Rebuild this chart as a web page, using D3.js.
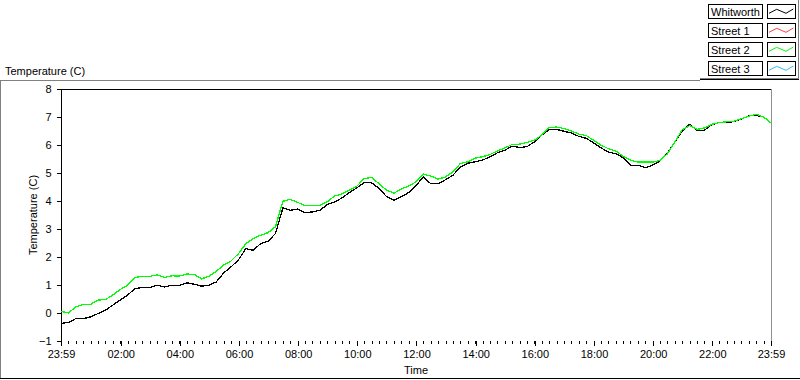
<!DOCTYPE html>
<html>
<head>
<meta charset="utf-8">
<script src="https://cdn.jsdelivr.net/npm/d3@7/dist/d3.min.js"></script>
<style>
  body { margin: 0; background: #fff; }
  svg { display: block; font-family: "Liberation Sans", Arial, sans-serif; font-size: 11px; }
</style>
</head>
<body>
<div id="chart"></div>
<script>
// readings every 15 minutes, hour 0 = 23:59 of the previous day
var stepHours = 0.25;

var whitworth = [
    -0.37, -0.34, -0.2, -0.2, -0.14, -0.02, 0.1, 0.28, 0.46, 0.64, 0.87, 0.91,
    0.91, 0.99, 0.93, 0.99, 0.98, 1.08, 1.03, 0.96, 0.99, 1.11, 1.43, 1.65,
    1.9, 2.3, 2.24, 2.48, 2.56, 2.84, 3.75, 3.67, 3.71, 3.58, 3.61, 3.67,
    3.87, 3.97, 4.11, 4.3, 4.47, 4.66, 4.65, 4.45, 4.16, 4.03, 4.15, 4.3,
    4.56, 4.85, 4.62, 4.62, 4.76, 4.92, 5.22, 5.35, 5.4, 5.46, 5.58, 5.72,
    5.81, 5.96, 5.91, 5.94, 6.11, 6.35, 6.55, 6.56, 6.49, 6.43, 6.31, 6.24,
    6.08, 5.9, 5.75, 5.69, 5.55, 5.28, 5.28, 5.19, 5.28, 5.43, 5.72, 6.11,
    6.5, 6.74, 6.53, 6.53, 6.73, 6.8, 6.8, 6.84, 6.93, 7.04, 7.06, 7.0, 6.79
];

var street2 = [
    0.06, 0.0, 0.22, 0.3, 0.31, 0.46, 0.48, 0.64, 0.84, 0.99, 1.27, 1.31,
    1.31, 1.36, 1.27, 1.33, 1.32, 1.39, 1.38, 1.22, 1.31, 1.49, 1.71, 1.86,
    2.12, 2.48, 2.66, 2.78, 2.87, 3.08, 3.99, 4.06, 3.95, 3.83, 3.85, 3.85,
    3.97, 4.18, 4.25, 4.39, 4.53, 4.8, 4.84, 4.62, 4.39, 4.28, 4.42, 4.54,
    4.68, 4.96, 4.89, 4.78, 4.86, 5.04, 5.34, 5.4, 5.53, 5.58, 5.66, 5.79,
    5.89, 6.02, 6.03, 6.09, 6.17, 6.35, 6.63, 6.64, 6.59, 6.5, 6.39, 6.34,
    6.17, 6.0, 5.87, 5.79, 5.6, 5.46, 5.39, 5.39, 5.39, 5.45, 5.69, 6.11,
    6.55, 6.69, 6.56, 6.61, 6.74, 6.8, 6.83, 6.85, 6.94, 7.03, 7.1, 7.0, 6.79
];

var legendNames = ["Whitworth", "Street 1", "Street 2", "Street 3"];
var legendColors = ["#000000", "#ff4040", "#00ff00", "#33bbff"];

var yTicks = [-1, 0, 1, 2, 3, 4, 5, 6, 7, 8];
var xTickHours = [0, 2.0167, 4.0167, 6.0167, 8.0167, 10.0167, 12.0167, 14.0167, 16.0167, 18.0167, 20.0167, 22.0167, 24];
var xTickLabels = ["23:59", "02:00", "04:00", "06:00", "08:00", "10:00", "12:00", "14:00", "16:00", "18:00", "20:00", "22:00", "23:59"];

var width = 800;
var height = 380;

var svg = d3.select("#chart")
    .append("svg")
    .attr("width", width)
    .attr("height", height)

var x = d3.scaleLinear().domain([0, 24]).range([61, 771]);
var y = d3.scaleLinear().domain([-1, 8]).range([341, 89]);

// outer panel frame
svg.append("line").attr("x1", 0).attr("x2", 700).attr("y1", 80.5).attr("y2", 80.5).attr("stroke", "#808080");
svg.append("line").attr("x1", 0.5).attr("x2", 0.5).attr("y1", 80).attr("y2", 379).attr("stroke", "#808080");
svg.append("line").attr("x1", 0).attr("x2", 800).attr("y1", 378.5).attr("y2", 378.5).attr("stroke", "#000");
// legend frame
svg.append("line").attr("x1", 798.5).attr("x2", 798.5).attr("y1", 0).attr("y2", 79).attr("stroke", "#808080");
svg.append("line").attr("x1", 700).attr("x2", 799).attr("y1", 78.5).attr("y2", 78.5).attr("stroke", "#808080");
svg.append("line").attr("x1", 700).attr("x2", 799).attr("y1", 79.5).attr("y2", 79.5).attr("stroke", "#000");

svg.append("text")
    .attr("x", 5)
    .attr("y", 75)
    .text("Temperature (C)")

// plot borders: top + left black, right gray
svg.append("line").attr("x1", 61).attr("x2", 772).attr("y1", 89.5).attr("y2", 89.5).attr("stroke", "#000");
svg.append("line").attr("x1", 61.5).attr("x2", 61.5).attr("y1", 89).attr("y2", 341).attr("stroke", "#000");
svg.append("line").attr("x1", 771.5).attr("x2", 771.5).attr("y1", 89).attr("y2", 341).attr("stroke", "#909090");

var yAxis = svg.append("g")
    .attr("transform", "translate(61.5,0)")
    .call(d3.axisLeft(y).tickValues(yTicks).tickSize(5).tickPadding(5).tickFormat(d3.format("d")))
yAxis.select(".domain").remove();

var minorTicks = d3.range(0, 24.01, stepHours);
var xMinor = svg.append("g")
    .attr("transform", "translate(0,341)")
    .call(d3.axisBottom(x).tickValues(minorTicks).tickSize(3).tickFormat(""))
xMinor.select(".domain").remove();

var xAxis = svg.append("g")
    .attr("transform", "translate(0,341)")
    .call(d3.axisBottom(x).tickValues(xTickHours).tickSize(5).tickPadding(4)
        .tickFormat(function (d, i) { return xTickLabels[i]; }))
xAxis.select(".domain").remove();

svg.selectAll(".tick text").attr("font-size", 11).attr("font-family", "Liberation Sans, Arial, sans-serif").attr("fill", "#000");
svg.selectAll(".tick line").attr("stroke", "#000").attr("shape-rendering", "crispEdges");

svg.append("text")
    .attr("x", 416)
    .attr("y", 374)
    .attr("text-anchor", "middle")
    .text("Time")

svg.append("text")
    .attr("transform", "translate(37,215) rotate(-90)")
    .attr("text-anchor", "middle")
    .text("Temperature (C)")

var line = d3.line()
    .x(function (d, i) { return x(i * stepHours); })
    .y(function (d) { return y(d); })

svg.append("path")
    .datum(whitworth)
    .attr("fill", "none")
    .attr("stroke", legendColors[0])
    .attr("stroke-width", 1.3)
    .attr("shape-rendering", "crispEdges")
    .attr("d", line)

svg.append("path")
    .datum(street2)
    .attr("fill", "none")
    .attr("stroke", legendColors[2])
    .attr("stroke-width", 1.3)
    .attr("shape-rendering", "crispEdges")
    .attr("d", line)

// legend
var swatch = [[2, 9.3], [9.7, 5.3], [19, 9.3], [26.3, 5]];
var rows = svg.selectAll(".legend")
    .data(legendNames)
    .enter().append("g")
    .attr("class", "legend")
    .attr("transform", function (d, i) { return "translate(0," + (4 + i * 19) + ")"; })

rows.append("rect")
    .attr("x", 708.5).attr("y", 0.5).attr("width", 54).attr("height", 14)
    .attr("fill", "#fff").attr("stroke", "#000")
rows.append("text")
    .attr("x", 711).attr("y", 12)
    .text(function (d) { return d; })
rows.append("rect")
    .attr("x", 767.5).attr("y", 0.5).attr("width", 28).attr("height", 14)
    .attr("fill", "#fff").attr("stroke", "#000")
rows.append("path")
    .attr("fill", "none")
    .attr("stroke", function (d, i) { return legendColors[i]; })
    .attr("d", function () {
        return d3.line()(swatch.map(function (p) { return [767 + p[0], p[1]]; }));
    })
</script>
</body>
</html>
